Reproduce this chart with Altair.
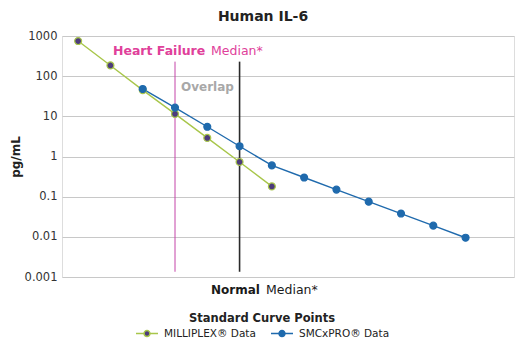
import altair as alt
import pandas as pd

# ---- data ----
curve_points = list(range(1, 15))
milliplex_pts = [1, 2, 3, 4, 5, 6, 7]
milliplex_vals = [750, 185, 45, 11.5, 2.9, 0.73, 0.18]
smcxpro_pts = [3, 4, 5, 6, 7, 8, 9, 10, 11, 12, 13]
smcxpro_vals = [48, 16.5, 5.5, 1.8, 0.6, 0.3, 0.15, 0.075, 0.038, 0.019, 0.0095]
series_names = ["MILLIPLEX® Data", "SMCxPRO® Data"]
y_ticks = [0.001, 0.01, 0.1, 1, 10, 100, 1000]
median_names = ["Heart Failure", "Normal"]
median_pts = [4, 6]
median_top = [230, 230]
median_bottom = [0.00135, 0.00135]

GREEN = "#a8c64a"
PURPLE = "#4d3c7c"
BLUE = "#1f6aad"
PINK = "#e0409a"
FONT = "DejaVu Sans"

df = pd.DataFrame({
    "pt": milliplex_pts + smcxpro_pts,
    "value": milliplex_vals + smcxpro_vals,
    "series": [series_names[0]] * len(milliplex_pts) + [series_names[1]] * len(smcxpro_pts),
})
df_rules = pd.DataFrame({
    "name": median_names, "pt": median_pts, "top": median_top, "bottom": median_bottom,
})

xenc = alt.X("pt:O", scale=alt.Scale(domain=curve_points), axis=None)
yscale = alt.Scale(type="log", domain=[0.001, 1000], nice=False)
yaxis = alt.Axis(values=y_ticks, format="~g", grid=True, gridColor="#c8c8c8",
                 domain=False, ticks=False, labelPadding=5, labelFontSize=11.5,
                 labelFont=FONT, labelColor="#333", title="pg/mL", titleFont=FONT,
                 titleFontSize=12, titleFontWeight="bold", titleColor="#222",
                 titlePadding=2)

legend_path = ("M-1,0H-0.27M0.27,0H1"
               "M-0.27,0A0.27,0.27,0,1,0,0.27,0A0.27,0.27,0,1,0,-0.27,0Z")
legend = alt.Legend(title="Standard Curve Points", orient="none", legendX=73,
                    legendY=277, direction="horizontal", symbolType=legend_path,
                    symbolSize=484, symbolStrokeWidth=1.5, titleFont=FONT,
                    titleFontSize=11.5, titleFontWeight="bold", titleColor="#222",
                    titleAnchor="middle", labelFont=FONT, labelFontSize=10.5,
                    labelColor="#222", labelOffset=5, columnPadding=12, padding=0,
                    titlePadding=-3)

stroke_enc = alt.Stroke("series:N", scale=alt.Scale(domain=series_names, range=[GREEN, BLUE]),
                        legend=legend)
fill_enc = alt.Fill("series:N", scale=alt.Scale(domain=series_names, range=[PURPLE, BLUE]),
                    legend=legend)

rules = alt.Chart(df_rules).mark_rule().encode(
    x=xenc,
    y=alt.Y("top:Q", scale=yscale, axis=yaxis, title="pg/mL"),
    y2="bottom:Q",
    color=alt.Color("name:N", scale=alt.Scale(domain=median_names, range=["#c445a8", "#2a2a2a"]),
                    legend=None),
    strokeWidth=alt.StrokeWidth("name:N", scale=alt.Scale(domain=median_names, range=[1, 1.6]),
                                legend=None),
)

lines = alt.Chart(df).mark_line(strokeWidth=1.4).encode(
    x=xenc,
    y=alt.Y("value:Q", scale=yscale, axis=yaxis, title="pg/mL"),
    stroke=stroke_enc,
    detail="series:N",
)

points = alt.Chart(df).mark_point(filled=True, size=48, strokeWidth=1.2, opacity=1).encode(
    x=xenc,
    y=alt.Y("value:Q", scale=yscale, axis=yaxis, title="pg/mL"),
    stroke=stroke_enc,
    fill=fill_enc,
)


def label(txt, x, y, size, weight, color):
    return alt.Chart(pd.DataFrame({"t": [txt]})).mark_text(
        align="left", baseline="alphabetic", font=FONT, fontSize=size,
        fontWeight=weight, color=color,
    ).encode(x=alt.value(x), y=alt.value(y), text="t:N")


annots = [
    label("Heart Failure", 51, 19, 12.5, "bold", PINK),
    label("Median*", 149, 19, 12.5, "normal", PINK),
    label("Overlap", 119, 55, 12, "bold", "#a8a8a8"),
    label("Normal", 149, 258, 12, "bold", "#1a1a1a"),
    label("Median*", 204, 258, 12.5, "normal", "#1a1a1a"),
]

chart = alt.layer(rules, lines, points, *annots).properties(
    width=452, height=241,
    title=alt.TitleParams("Human IL-6", font=FONT, fontSize=14, fontWeight="bold",
                          color="#222", dx=-25, offset=6),
    autosize=alt.AutoSizeParams(type="none"),
    padding={"left": 62, "top": 36, "right": 12, "bottom": 74},
).configure_view(stroke=None).configure(background="white")

chart.save("out.html", embed_options={"renderer": "svg", "actions": False})
